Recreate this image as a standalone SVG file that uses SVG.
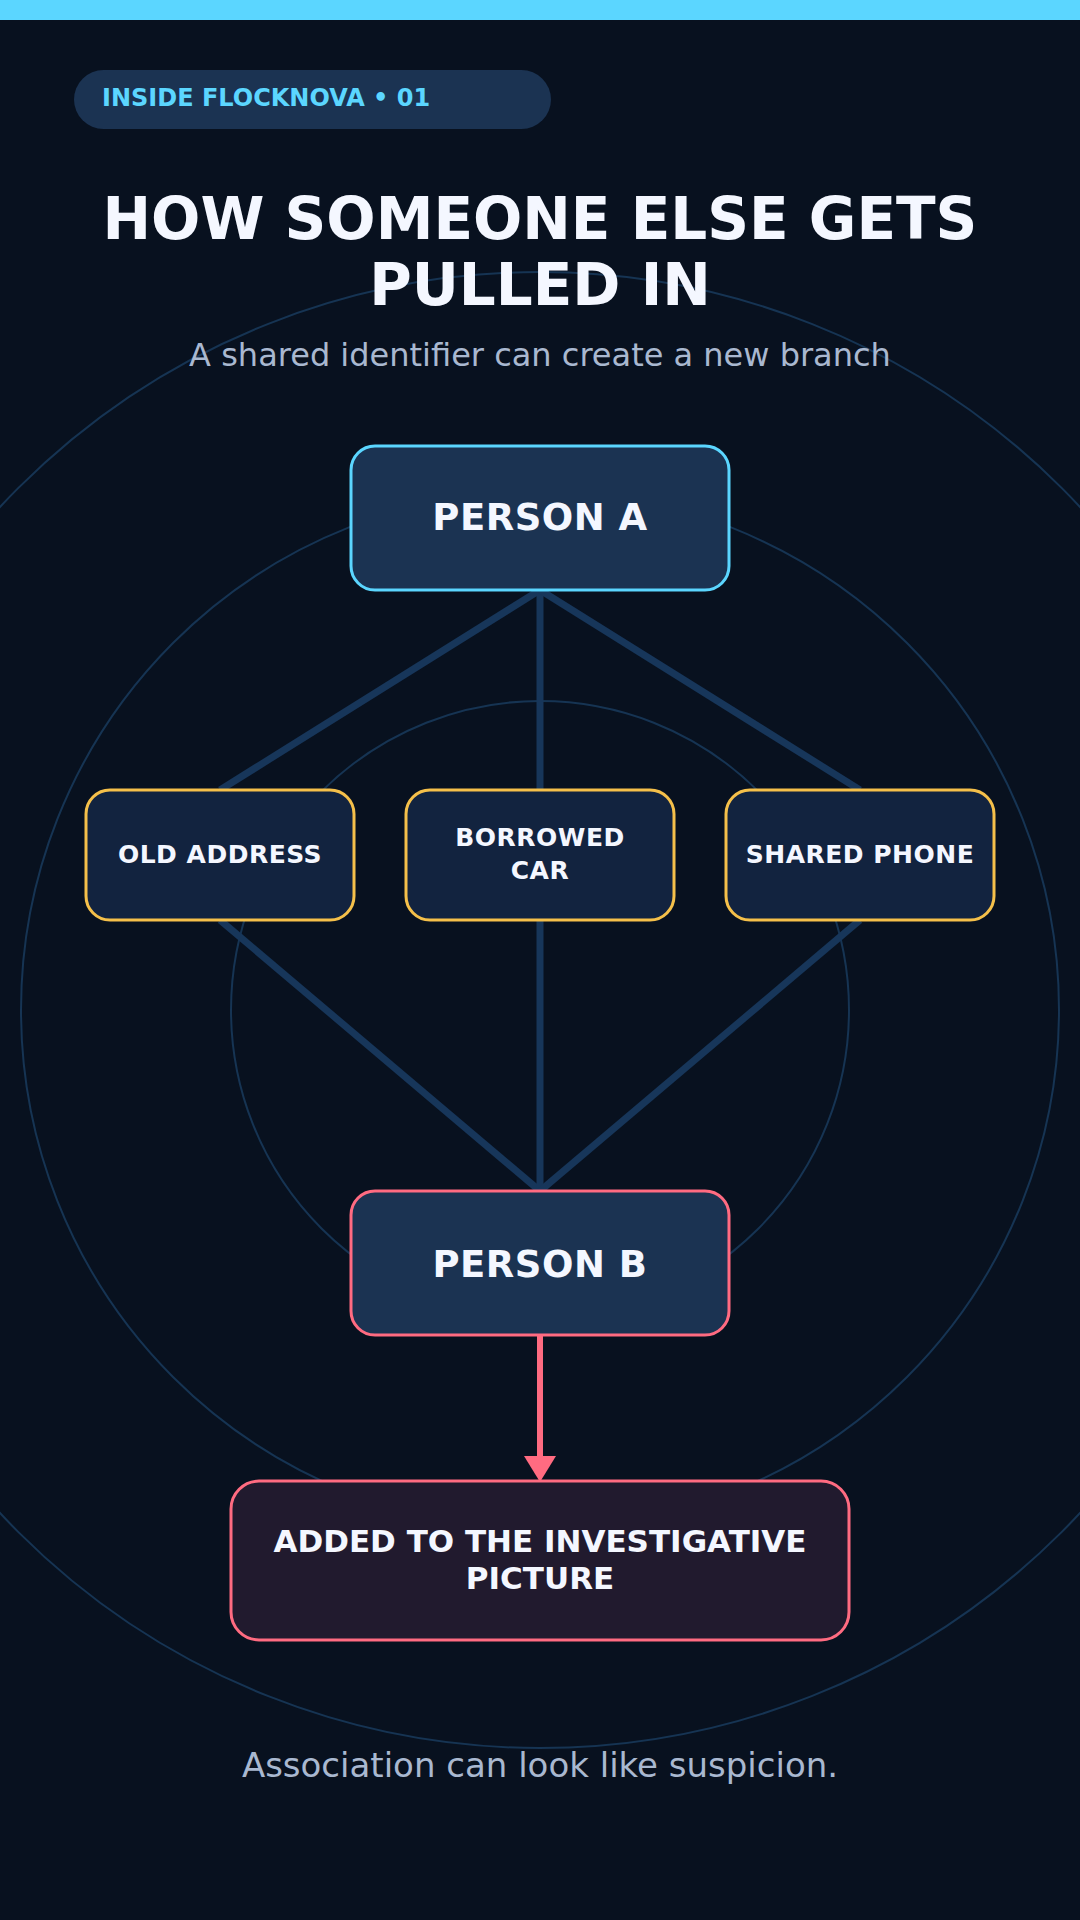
<svg xmlns="http://www.w3.org/2000/svg" width="1080" height="1920" viewBox="0 0 1080 1920">
<defs>
<style>
.bg{fill:#08111f}
.ring{fill:none;stroke:#163453;stroke-width:2}
.edge{stroke:#17365a;stroke-width:7;fill:none}
.person{fill:#1b3352;stroke-width:3}
.mid{fill:#12233f;stroke:#f5c04a;stroke-width:3}
.out{fill:#211a2e;stroke:#ff6b81;stroke-width:3}
.t{font-family:"DejaVu Sans","Noto Sans",sans-serif;font-weight:bold;fill:#f4f7ff;text-anchor:middle}
.sub{font-family:"DejaVu Sans","Noto Sans",sans-serif;fill:#a9b8d0;text-anchor:middle}
</style>
<marker id="ah" markerWidth="26" markerHeight="32" refX="0" refY="16" orient="auto" markerUnits="userSpaceOnUse" viewBox="0 0 26 32">
<path d="M0 0 L26 16 L0 32 Z" fill="#ff6b81"/>
</marker>
</defs>
<rect class="bg" x="0" y="0" width="1080" height="1920"/>
<rect x="0" y="0" width="1080" height="20" fill="#5bd6ff"/>
<g id="background-rings">
<circle class="ring" cx="540" cy="1010" r="738"/>
<circle class="ring" cx="540" cy="1010" r="519"/>
<circle class="ring" cx="540" cy="1010" r="309"/>
</g>
<g id="badge">
<rect x="74" y="70" width="477" height="59" rx="29.5" fill="#1b3352"/>
<text x="102" y="106" font-family="DejaVu Sans, sans-serif" font-weight="bold" font-size="24" fill="#5bd6ff">INSIDE FLOCKNOVA • 01</text>
</g>
<g id="title">
<text class="t" x="540" y="239" font-size="58">HOW SOMEONE ELSE GETS</text>
<text class="t" x="540" y="305" font-size="58">PULLED IN</text>
<text class="sub" x="540" y="366" font-size="32">A shared identifier can create a new branch</text>
</g>
<g id="connectors">
<line class="edge" x1="540" y1="590" x2="220" y2="790"/>
<line class="edge" x1="540" y1="590" x2="540" y2="790"/>
<line class="edge" x1="540" y1="590" x2="860" y2="790"/>
<line class="edge" x1="220" y1="920" x2="540" y2="1191"/>
<line class="edge" x1="540" y1="920" x2="540" y2="1191"/>
<line class="edge" x1="860" y1="920" x2="540" y2="1191"/>
<line x1="540" y1="1335" x2="540" y2="1456" stroke="#ff6b81" stroke-width="6" marker-end="url(#ah)"/>
</g>
<g id="person-a">
<rect class="person" x="351" y="446" width="378" height="144" rx="24" stroke="#5bd6ff"/>
<text class="t" x="540" y="530" font-size="37" letter-spacing="0.5">PERSON A</text>
</g>
<g id="old-address">
<rect class="mid" x="86" y="790" width="268" height="130" rx="24"/>
<text class="t" x="220" y="863" font-size="25" letter-spacing="0.5">OLD ADDRESS</text>
</g>
<g id="borrowed-car">
<rect class="mid" x="406" y="790" width="268" height="130" rx="24"/>
<text class="t" x="540" y="846" font-size="25" letter-spacing="0.5">BORROWED</text>
<text class="t" x="540" y="879" font-size="25" letter-spacing="0.5">CAR</text>
</g>
<g id="shared-phone">
<rect class="mid" x="726" y="790" width="268" height="130" rx="24"/>
<text class="t" x="860" y="863" font-size="25" letter-spacing="0.5">SHARED PHONE</text>
</g>
<g id="person-b">
<rect class="person" x="351" y="1191" width="378" height="144" rx="24" stroke="#ff6b81"/>
<text class="t" x="540" y="1277" font-size="37" letter-spacing="0.5">PERSON B</text>
</g>
<g id="investigative-picture">
<rect class="out" x="231" y="1481" width="618" height="159" rx="28"/>
<text class="t" x="540" y="1552" font-size="31">ADDED TO THE INVESTIGATIVE</text>
<text class="t" x="540" y="1589" font-size="31">PICTURE</text>
</g>
<g id="footer">
<text class="sub" x="540" y="1777" font-size="34">Association can look like suspicion.</text>
</g>
</svg>
